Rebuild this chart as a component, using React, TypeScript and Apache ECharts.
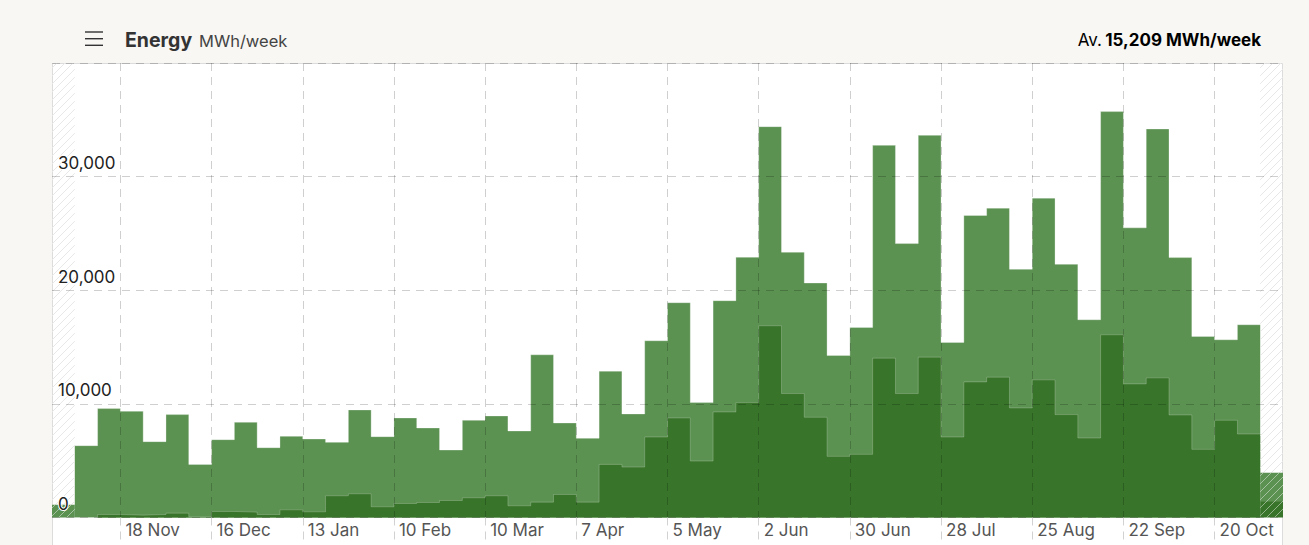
import React, { useEffect, useRef } from "react";
import * as echarts from "echarts";

// ---- data -------------------------------------------------------------
// x positions are in weeks relative to Monday 18 Nov 2024
const tickLabels = ["18 Nov", "16 Dec", "13 Jan", "10 Feb", "10 Mar", "7 Apr", "5 May", "2 Jun", "30 Jun", "28 Jul", "25 Aug", "22 Sep", "20 Oct"];
const tickStepWeeks = 4;
const firstFullWeek = -2; // week of 4 Nov 2024

// lower (dark green) series, MWh per week, full weeks 4 Nov 2024 .. 27 Oct 2025
const darkValues = [0, 265, 206, 265, 382, 50, 530, 470, 265, 676, 500, 1911, 2087, 941, 1235, 1323, 1500, 1735, 1911, 1029, 1352, 2029, 1352, 4675, 4439, 7085, 8761, 4969, 9290, 10114, 16876, 10907, 8820, 5380, 5557, 14024, 10907, 14112, 7085, 11936, 12348, 9643, 12113, 9055, 6997, 16082, 11760, 12289, 9026, 5998, 8555, 7350];
// upper (light green) series, stacked on the dark one
const lightValues = [6321, 9319, 9143, 6409, 8673, 4625, 6320, 7909, 5880, 6468, 6409, 4704, 7380, 6174, 7526, 6556, 4439, 6820, 7027, 6586, 12966, 6291, 5616, 8202, 4675, 8468, 10143, 5145, 9791, 12789, 17522, 12437, 11819, 8879, 11172, 18728, 13201, 19522, 8321, 14642, 14876, 12201, 15993, 13230, 10408, 19639, 13730, 21903, 13847, 9937, 7086, 9614];

// partial (incomplete) weeks at both ends: 28 Oct 2024 and 3 Nov 2025
const partialWeeks = [-3, 50];
const partialDark = [0, 1441];
const partialLight = [1117, 2499];

const averageValue = "15,209";
const unitLabel = "MWh/week";
const titleLabel = "Energy";
const yMax = 40000;
const yInterval = 10000;

// ---- style ------------------------------------------------------------
const FONT = "Inter, 'Noto Sans', sans-serif";
const LIGHT = "#5b9151";
const DARK = "#387429";
const PAGE_BG = "#f8f7f3";

function hatch(out: any[], x0: number, y0: number, x1: number, y1: number, color: string) {
  const s = 8;
  const cStart = Math.floor((x0 + y0) / s) * s;
  for (let c = cStart; c <= x1 + y1; c += s) {
    const xa = Math.max(x0, c - y1);
    const xb = Math.min(x1, c - y0);
    if (xb - xa > 0.5) {
      out.push({
        type: "line",
        shape: { x1: xa, y1: c - xa, x2: xb, y2: c - xb },
        style: { stroke: color, lineWidth: 1 },
      });
    }
  }
}

export default function App() {
  const ref = useRef<HTMLDivElement>(null);

  useEffect(() => {
    if (!ref.current) return;
    const chart = echarts.init(ref.current, undefined, { renderer: "svg" });

    const n = darkValues.length;
    const totalData: number[][] = darkValues.map((d, i) => [firstFullWeek + i, d + lightValues[i]]);
    totalData.push([firstFullWeek + n, darkValues[n - 1] + lightValues[n - 1]]);
    const darkData: number[][] = darkValues.map((d, i) => [firstFullWeek + i, d]);
    darkData.push([firstFullWeek + n, darkValues[n - 1]]);
    const partialData = partialWeeks.map((x, i) => [x, partialDark[i], partialLight[i]]);
    const tickValues = tickLabels.map((_, i) => i * tickStepWeeks);

    const gridLine = { color: "rgba(0,0,0,0.19)", type: [8, 6] as any, width: 1 };

    chart.setOption({
      animation: false,
      backgroundColor: PAGE_BG,
      grid: { left: 52, right: 26, top: 63, bottom: 27.5, containLabel: false },
      xAxis: {
        type: "value",
        min: partialWeeks[0],
        max: partialWeeks[1] + 1,
        z: 10,
        axisLine: { show: false },
        axisTick: {
          show: true,
          customValues: tickValues,
          length: 28,
          lineStyle: { color: "#d2d2d2", type: [8, 6], width: 1 },
        },
        axisLabel: {
          customValues: tickValues,
          formatter: (v: number) => tickLabels[Math.round(v / tickStepWeeks)] ?? "",
          align: "left",
          padding: [0, 0, 0, 5],
          margin: 4,
          color: "#555",
          fontSize: 17,
          fontFamily: FONT,
        },
        splitLine: { show: true, lineStyle: gridLine },
      },
      yAxis: {
        type: "value",
        min: 0,
        max: yMax,
        interval: yInterval,
        z: 10,
        axisLine: { show: false },
        axisTick: { show: false },
        axisLabel: {
          inside: true,
          showMaxLabel: false,
          margin: 6,
          verticalAlign: "bottom",
          padding: [0, 0, 5, 0],
          color: "#222",
          fontSize: 17,
          fontFamily: FONT,
          textBorderColor: "#fff",
          textBorderWidth: 2,
          formatter: (v: number) => v.toLocaleString("en-US"),
        },
        splitLine: { show: true, lineStyle: gridLine },
      },
      graphic: [
        {
          type: "rect",
          z: 0,
          silent: true,
          shape: { x: 52.5, y: 63.5, width: 1230, height: 500 },
          style: { fill: "#ffffff", stroke: "#dcdcdc", lineWidth: 1 },
        },
        { type: "line", shape: { x1: 85, y1: 32, x2: 103, y2: 32 }, style: { stroke: "#333", lineWidth: 1.4 } },
        { type: "line", shape: { x1: 85, y1: 38.7, x2: 103, y2: 38.7 }, style: { stroke: "#333", lineWidth: 1.4 } },
        { type: "line", shape: { x1: 85, y1: 45.3, x2: 103, y2: 45.3 }, style: { stroke: "#333", lineWidth: 1.4 } },
        {
          type: "text",
          x: 125,
          y: 40,
          style: {
            text: titleLabel,
            font: `bold 19.5px ${FONT}`,
            fill: "#333",
            verticalAlign: "middle",
            align: "left",
          },
        },
        {
          type: "text",
          x: 199,
          y: 40.5,
          style: {
            text: unitLabel,
            font: `16.5px ${FONT}`,
            fill: "#444",
            verticalAlign: "middle",
            align: "left",
          },
        },
        {
          type: "text",
          x: 1261,
          y: 40,
          style: {
            text: `{a|Av.} {b|${averageValue} ${unitLabel}}`,
            align: "right",
            verticalAlign: "middle",
            rich: {
              a: { fontFamily: FONT, fontSize: 17, color: "#444" },
              b: { fontFamily: FONT, fontSize: 17, fontWeight: "bold", color: "#333" },
            },
          },
        },
      ],
      series: [
        {
          type: "line",
          step: "end",
          data: totalData,
          symbol: "none",
          showSymbol: false,
          silent: true,
          z: 2,
          lineStyle: { color: "rgba(255,255,255,0.3)", width: 1 },
          areaStyle: { color: LIGHT, opacity: 1 },
        },
        {
          type: "line",
          step: "end",
          data: darkData,
          symbol: "none",
          showSymbol: false,
          silent: true,
          z: 2,
          lineStyle: { color: "rgba(255,255,255,0.22)", width: 1 },
          areaStyle: { color: DARK, opacity: 1 },
        },
        {
          type: "custom",
          data: partialData,
          silent: true,
          z: 3,
          encode: { x: 0, y: [1, 2] },
          renderItem: (_params: any, api: any) => {
            const x0 = api.value(0) as number;
            const d = api.value(1) as number;
            const l = api.value(2) as number;
            const tl = api.coord([x0, yMax]);
            const br = api.coord([x0 + 1, 0]);
            const pd = api.coord([x0, d]);
            const pt = api.coord([x0, d + l]);
            const left = tl[0];
            const right = br[0];
            const bottom = br[1];
            const children: any[] = [];
            hatch(children, left, tl[1], right, bottom, "#e8e8e8");
            children.push({
              type: "rect",
              shape: { x: left, y: pt[1], width: right - left, height: pd[1] - pt[1] },
              style: { fill: LIGHT },
            });
            children.push({
              type: "rect",
              shape: { x: left, y: pd[1], width: right - left, height: bottom - pd[1] },
              style: { fill: DARK },
            });
            hatch(children, left, pt[1], right, bottom, "rgba(255,255,255,0.45)");
            return { type: "group", children };
          },
        },
      ],
    });

    return () => chart.dispose();
  }, []);

  return (
    <div
      ref={ref}
      style={{ position: "fixed", left: 0, top: 0, width: 1309, height: 545, background: PAGE_BG }}
    />
  );
}
